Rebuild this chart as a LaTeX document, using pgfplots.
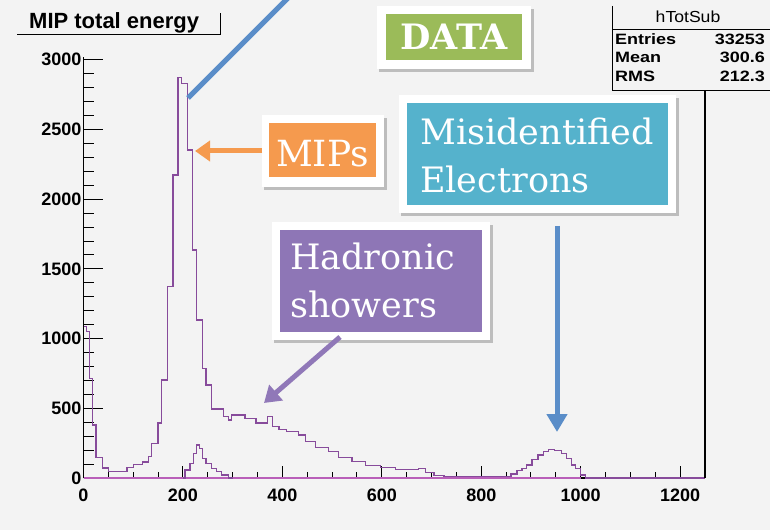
\documentclass[border=0pt]{standalone}
\usepackage{pgfplots}
\pgfplotsset{compat=1.18}
\usepackage{fontspec}
\setmainfont{Liberation Sans}
\newfontfamily\slab{DejaVu Serif}
\usetikzlibrary{arrows.meta}
\definecolor{bg}{HTML}{F3F3F3}
\definecolor{histc}{RGB}{135,75,155}
\definecolor{basec}{RGB}{185,95,185}
\definecolor{boxgreen}{HTML}{9BBB59}
\definecolor{boxorange}{HTML}{F59A4E}
\definecolor{boxcyan}{HTML}{55B2CC}
\definecolor{boxpurple}{HTML}{8E76B6}
\definecolor{arrblue}{HTML}{5A8DC8}
\definecolor{arrpurple}{HTML}{9078B8}
\begin{document}
\begin{tikzpicture}[x=1pt,y=1pt]
\clip (0,0) rectangle (770,530);
\fill[bg] (0,0) rectangle (770,530);
\begin{axis}[at={(83.5pt,52pt)}, anchor=south west, scale only axis,
  width=621.5pt, height=421pt,
  xmin=0, xmax=1250, ymin=0, ymax=3020,
  axis x line*=bottom, axis y line*=left,
  axis line style={-, line width=1.2pt, black},
  tick pos=left, tick align=inside,
  xtick={0,200,...,1200}, minor x tick num=3,
  ytick={0,500,...,3000}, minor y tick num=4,
  major tick length=19pt, minor tick length=10pt,
  xtick style={/pgfplots/major tick length=12pt,/pgfplots/minor tick length=6pt},
  tick style={black, line width=1pt},
  ticklabel style={font=\bfseries\fontsize{18}{18}\selectfont},
  xticklabel style={yshift=-7pt},
  yticklabel style={xshift=1.5pt},
  /pgf/number format/assume math mode=true,
  /pgf/number format/1000 sep={},
  clip=false,
]
% zero baseline histogram
\addplot[draw=basec, line width=2.2pt] coordinates {(0,0) (1000,0)};
% main histogram
\addplot[const plot mark left, draw=histc, line width=1.25pt] coordinates {
(0,1085) (6.25,1050) (12.5,715) (18.75,380) (25,145) (37.5,72) (50,45)
(87.5,75) (100,95) (118.75,115) (131.25,155) (137.5,250) (150,395)
(156.25,703) (168.75,1372) (180,2173) (190,2874) (197.5,2831) (209.5,2353)
(219.5,1636) (228,1133) (240,787) (246.5,667) (258,495) (281.5,440)
(291.5,416) (298,452) (325,428) (347,395) (370,440) (380,370) (393,349)
(409,332) (432.5,308) (446,260) (466,220) (493,189) (513,148) (540,117)
(567,88) (597,74) (627,62) (674,66) (688,41) (705,20) (725,12) (860,29)
(872,53) (882,70) (891,93) (902,134) (914,165) (925,189) (935,206)
(948,196) (962,177) (972,141) (982,93) (990,70) (999,22) (1009,0) (1250,0)
};
% small histogram
\addplot[const plot mark left, draw=histc, line width=1.25pt] coordinates {
(200,0) (204,57) (214,105) (221,177) (228,237) (234,213) (240,141)
(246.5,105) (258,70) (268,45) (278,22) (291,0) (300,0)
};
\draw[line width=1.2pt, black] (rel axis cs:1,0) -- (rel axis cs:1,1);
\end{axis}
\begin{scope}[shift={(0,530)}, y=-1pt]
% title
\node[anchor=base west, inner sep=0, font=\bfseries\fontsize{22}{22}\selectfont] at (29,29) {MIP total energy};
\draw[line width=1pt] (17,35) -- (220,35) -- (220,13);
% stats box
\fill[bg] (612,4) rectangle (772,91);
\draw[line width=1pt] (612,6) -- (612,91) -- (772,91);
\draw[line width=1pt] (612,30) -- (772,30);
\node[anchor=base, inner sep=0, font=\fontsize{16}{16}\selectfont] at (688,23) {\scalebox{1.1}[1]{hTotSub}};
\node[anchor=base west, inner sep=0, font=\bfseries\fontsize{15}{15}\selectfont] at (615,45) {\scalebox{1.2}[1]{Entries}};
\node[anchor=base east, inner sep=0, font=\bfseries\fontsize{15}{15}\selectfont] at (765,45) {\scalebox{1.2}[1]{33253}};
\node[anchor=base west, inner sep=0, font=\bfseries\fontsize{15}{15}\selectfont] at (615,63) {\scalebox{1.2}[1]{Mean}};
\node[anchor=base east, inner sep=0, font=\bfseries\fontsize{15}{15}\selectfont] at (765,63) {\scalebox{1.2}[1]{300.6}};
\node[anchor=base west, inner sep=0, font=\bfseries\fontsize{15}{15}\selectfont] at (615,82) {\scalebox{1.2}[1]{RMS}};
\node[anchor=base east, inner sep=0, font=\bfseries\fontsize{15}{15}\selectfont] at (765,82) {\scalebox{1.2}[1]{212.3}};
% blue line
\draw[line width=5pt, arrblue] (188,98) -- (300,-14);
% DATA box
\fill[black, opacity=0.22] (379,9) rectangle (534,72);
\fill[white] (377,6) rectangle (531,69);
\fill[boxgreen] (386,14) rectangle (522,60);
\node[text=white, font=\slab\bfseries\fontsize{35}{35}\selectfont, inner sep=0] at (454,37) {DATA};
% MIPs box
\fill[black, opacity=0.22] (264,118) rectangle (387,190);
\fill[white] (262,115) rectangle (384,187);
\fill[boxorange] (269,123) rectangle (376,177);
\node[text=white, font=\slab\fontsize{36}{36}\selectfont, inner sep=0, anchor=base] at (322.5,167) {MIPs};
\draw[line width=5pt, boxorange, -{Triangle[width=20pt,length=15pt]}] (262,151) -- (195,151);
% Misidentified electrons box
\fill[black, opacity=0.22] (401,98) rectangle (679,216);
\fill[white] (399,95) rectangle (676,213);
\fill[boxcyan] (407,103) rectangle (668,205);
\node[text=white, font=\slab\fontsize{35}{35}\selectfont, inner sep=0, anchor=base west] at (420,145) {Misidentified};
\node[text=white, font=\slab\fontsize{35}{35}\selectfont, inner sep=0, anchor=base west] at (420,193) {Electrons};
\draw[line width=5pt, arrblue, -{Triangle[width=20pt,length=18pt]}] (557,226) -- (557,432);
% Hadronic showers box
\fill[black, opacity=0.22] (274,225) rectangle (493,343);
\fill[white] (272,222) rectangle (490,340);
\fill[boxpurple] (280,230) rectangle (482,332);
\node[text=white, font=\slab\fontsize{35}{35}\selectfont, inner sep=0, anchor=base west] at (290,270) {Hadronic};
\node[text=white, font=\slab\fontsize{35}{35}\selectfont, inner sep=0, anchor=base west] at (290,318) {showers};
\draw[line width=5pt, arrpurple, -{Triangle[width=20pt,length=16pt]}] (340,337) -- (264,403);
\end{scope}
\end{tikzpicture}
\end{document}
